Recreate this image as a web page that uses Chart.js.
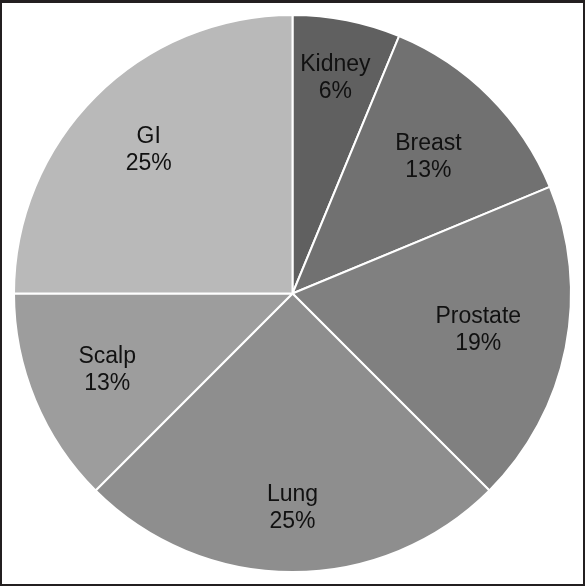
<!DOCTYPE html>
<html>
<head>
<meta charset="utf-8">
<script src="https://cdn.jsdelivr.net/npm/chart.js@4"></script>
<style>
  html, body { margin: 0; padding: 0; background: #fff; }
  #frame {
    width: 585px;
    height: 586px;
    box-sizing: border-box;
    border: 2px solid #231f20;
    border-top-width: 3px;
    position: relative;
  }
</style>
</head>
<body>
<div id="frame"><canvas id="myChart"></canvas></div>
<script>
const categories = ["Kidney", "Breast", "Prostate", "Lung", "Scalp", "GI"];
const patients = [1, 2, 3, 4, 2, 4];
const percentLabels = ["6%", "13%", "19%", "25%", "13%", "25%"];

const sliceColors = ["#606060", "#717171", "#808080", "#8e8e8e", "#9d9d9d", "#b9b9b9"];

// how far out each label sits, as a share of the radius
const labelRadius = [0.79, 0.69, 0.68, 0.77, 0.72, 0.73];

const sliceLabels = {
  id: "sliceLabels",
  afterDatasetsDraw(chart) {
    const { ctx } = chart;
    const arcs = chart.getDatasetMeta(0).data;

    ctx.save();
    ctx.fillStyle = "#111111";
    ctx.font = "23px 'Liberation Sans', Arial, sans-serif";
    ctx.textAlign = "center";
    ctx.textBaseline = "middle";

    arcs.forEach((arc, i) => {
      const { x, y, startAngle, endAngle, outerRadius } = arc.getProps(
        ["x", "y", "startAngle", "endAngle", "outerRadius"],
        true
      );
      const mid = (startAngle + endAngle) / 2;
      const r = outerRadius * labelRadius[i];
      const lx = x + Math.cos(mid) * r;
      const ly = y + Math.sin(mid) * r;

      ctx.fillText(categories[i], lx, ly - 13.5);
      ctx.fillText(percentLabels[i], lx, ly + 13.5);
    });

    ctx.restore();
  },
};

const data = {
  labels: categories,
  datasets: [
    {
      data: patients,
      backgroundColor: sliceColors,
      borderColor: "#ffffff",
      borderWidth: 2,
    },
  ],
};

const config = {
  type: "pie",
  data: data,
  options: {
    responsive: true,
    maintainAspectRatio: false,
    animation: false,
    layout: {
      padding: 11,
    },
    plugins: {
      legend: {
        display: false,
      },
      tooltip: {
        enabled: false,
      },
    },
  },
  plugins: [sliceLabels],
};

new Chart(document.getElementById("myChart"), config);
</script>
</body>
</html>
